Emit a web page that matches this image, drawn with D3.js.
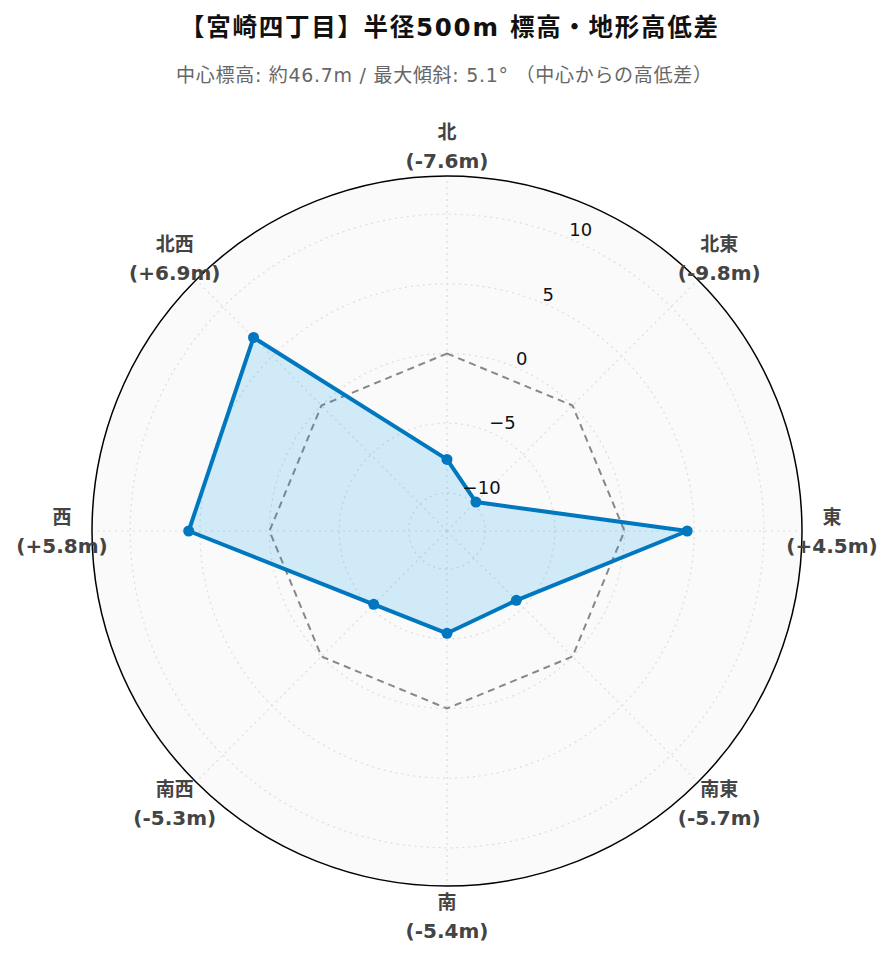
<!DOCTYPE html>
<html><head><meta charset="utf-8">
<script src="https://cdn.jsdelivr.net/npm/d3@7"></script>
<style>body{margin:0;background:#fff}svg{display:block}</style>
</head><body>
<svg id="c" width="893" height="962"></svg>
<script>
const titleText = "【宮崎四丁目】半径500m 標高・地形高低差";
const subtitleText = "中心標高: 約46.7m / 最大傾斜: 5.1° （中心からの高低差）";
const directions = ["北","北東","東","南東","南","南西","西","北西"];
const values = [-7.6, -9.8, 4.5, -5.7, -5.4, -5.3, 5.8, 6.9];
const radialTicks = [-10, -5, 0, 5, 10];
const radialMax = 12.74;

const svg = d3.select("#c");
const cx = 447, cy = 531, R = 355;
const FONT = "'DejaVu Sans','Noto Sans CJK JP',sans-serif";
const r = d3.scaleLinear().domain([-radialMax, radialMax]).range([0, R]);
const ang = d3.scalePoint().domain(directions).range([0, 2*Math.PI*7/8]);
const pt = (a, rad) => [cx + rad*Math.sin(a), cy - rad*Math.cos(a)];

svg.append("text").attr("x", 449).attr("y", 36).attr("text-anchor","middle")
  .attr("font-family", FONT).attr("font-weight","bold").attr("font-size", 24.5)
  .attr("fill","#111").attr("textLength", 538).attr("lengthAdjust","spacing").text(titleText);
svg.append("text").attr("x", 444).attr("y", 82).attr("text-anchor","middle")
  .attr("font-family", FONT).attr("font-size", 19).attr("fill","#666")
  .attr("textLength", 536).attr("lengthAdjust","spacing").text(subtitleText);

const g = svg.append("g");
g.append("circle").attr("cx",cx).attr("cy",cy).attr("r",R).attr("fill","#fafafa");

// grid circles
radialTicks.forEach(t => {
  g.append("circle").attr("cx",cx).attr("cy",cy).attr("r", r(t))
    .attr("fill","none").attr("stroke","#ddd").attr("stroke-width",1.2).attr("stroke-dasharray","2,4");
});
directions.forEach(d => {
  const [x2,y2] = pt(ang(d), R);
  g.append("line").attr("x1",cx).attr("y1",cy).attr("x2",x2).attr("y2",y2)
    .attr("stroke","#ddd").attr("stroke-width",1.2).attr("stroke-dasharray","2,4");
});

// zero reference octagon
const zeroPts = directions.map(d => pt(ang(d), r(0)));
g.append("path").attr("d", d3.line()(zeroPts) + "Z")
  .attr("fill","none").attr("stroke","#888").attr("stroke-width",2).attr("stroke-dasharray","7,5");

// data polygon
const dataPts = directions.map((d,i) => pt(ang(d), r(values[i])));
g.append("path").attr("d", d3.line()(dataPts) + "Z")
  .attr("fill","rgba(0,160,230,0.17)").attr("stroke","#0077be").attr("stroke-width",4)
  .attr("stroke-linejoin","round");
g.selectAll(".dot").data(dataPts).join("circle").attr("cx",d=>d[0]).attr("cy",d=>d[1])
  .attr("r",5.5).attr("fill","#0077be");

// outer circle
g.append("circle").attr("cx",cx).attr("cy",cy).attr("r",R).attr("fill","none")
  .attr("stroke","#000").attr("stroke-width",1.5);

// radial tick labels
const tickAng = Math.PI/8;
radialTicks.forEach(t => {
  const [x,y] = pt(tickAng, r(t));
  g.append("text").attr("x", x+1).attr("y", y-2).attr("font-family",FONT).attr("font-size",18)
    .attr("fill","#111").text(t < 0 ? "\u2212" + Math.abs(t) : String(t));
});

// angular labels
directions.forEach((d,i) => {
  const [x,y] = pt(ang(d), 385);
  const v = values[i];
  const lbl = "(" + (v >= 0 ? "+" : "-") + Math.abs(v).toFixed(1) + "m)";
  const t = g.append("text").attr("text-anchor","middle").attr("font-family",FONT)
    .attr("font-weight","bold").attr("font-size",20).attr("fill","#444");
  t.append("tspan").attr("x",x).attr("y",y-14.5).attr("dominant-baseline","central")
    .attr("font-size",19).text(d);
  t.append("tspan").attr("x",x).attr("y",y+14.5).attr("dominant-baseline","central").text(lbl);
});
</script>
</body></html>
